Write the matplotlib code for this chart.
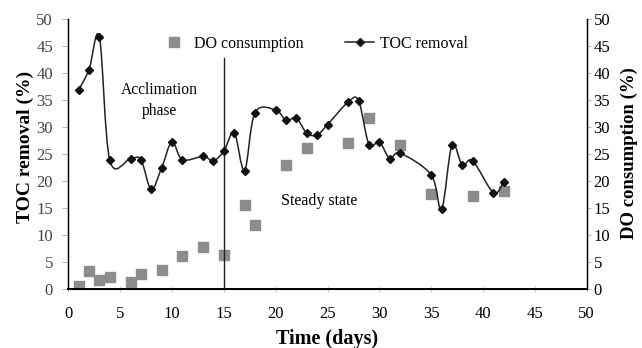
import numpy as np
import matplotlib
matplotlib.use("Agg")
import matplotlib.pyplot as plt
from matplotlib.path import Path
from matplotlib.patches import PathPatch
from matplotlib.lines import Line2D

plt.rcParams['font.family'] = ['Liberation Serif', 'DejaVu Serif']

toc_days = [1, 2, 3, 4, 6, 7, 8, 9, 10, 11, 13, 14, 15, 16, 17, 18, 20, 21, 22, 23, 24, 25,
            27, 28, 29, 30, 31, 32, 35, 36, 37, 38, 39, 41, 42]
toc_removal = [36.9, 40.7, 46.7, 23.9, 24.2, 24.0, 18.5, 22.5, 27.3, 24.0, 24.6, 23.8, 25.6,
               29.0, 22.0, 32.7, 33.2, 31.3, 31.7, 28.9, 28.6, 30.5,
               34.7, 34.9, 26.8, 27.3, 24.2, 25.2, 21.2, 14.8, 26.7, 23.0, 23.8, 17.9, 19.9]

do_days = [1, 2, 3, 4, 6, 7, 9, 11, 13, 15, 17, 18, 21, 23, 27, 29, 32, 35, 39, 42]
do_consumption = [0.7, 3.3, 1.7, 2.3, 1.35, 2.8, 3.5, 6.1, 7.8, 6.3, 15.6, 11.9, 23.1, 26.1,
                  27.1, 31.8, 26.8, 17.7, 17.3, 18.2]

phase_boundary = 15
phase_line_top = 42.9
x_ticks = [0, 5, 10, 15, 20, 25, 30, 35, 40, 45, 50]
y_ticks = [0, 5, 10, 15, 20, 25, 30, 35, 40, 45, 50]


def smooth_path(xs, ys):
    xs = np.asarray(xs, float)
    ys = np.asarray(ys, float)
    n = len(xs)
    verts = [(xs[0], ys[0])]
    codes = [Path.MOVETO]
    for i in range(n - 1):
        i0 = max(i - 1, 0)
        i3 = min(i + 2, n - 1)
        c1 = (xs[i] + (xs[i + 1] - xs[i0]) / 6.0, ys[i] + (ys[i + 1] - ys[i0]) / 6.0)
        c2 = (xs[i + 1] - (xs[i3] - xs[i]) / 6.0, ys[i + 1] - (ys[i3] - ys[i]) / 6.0)
        verts += [c1, c2, (xs[i + 1], ys[i + 1])]
        codes += [Path.CURVE4] * 3
    return Path(verts, codes)


fig = plt.figure(figsize=(6.42, 3.48), dpi=100)
ax = fig.add_axes([0.1064, 0.1687, 0.8075, 0.7758])
ax2 = ax.twinx()

ax.add_patch(PathPatch(smooth_path(toc_days, toc_removal), facecolor='none',
                       edgecolor='#222222', lw=1.1, zorder=3))
ax.plot(toc_days, toc_removal, linestyle='none', marker='D', markersize=4.3,
        color='#111111', zorder=4)
ax.plot(do_days, do_consumption, linestyle='none', marker='s', markersize=6.5,
        color='#8c8c8c', zorder=2)
ax.plot([phase_boundary, phase_boundary], [0, phase_line_top], color='#222222', lw=1.0)

ax.set_xlim(0, 50)
ax.set_ylim(0, 50)
ax2.set_ylim(0, 50)
ax.set_xticks(x_ticks)
ax.set_yticks(y_ticks)
ax2.set_yticks(y_ticks)

for a in (ax, ax2):
    a.spines['top'].set_visible(False)
ax.spines['bottom'].set_linewidth(1.4)
ax.spines['left'].set_linewidth(1.0)
ax2.spines['right'].set_linewidth(1.0)
ax.tick_params(axis='y', length=4, width=0.6, color='#aaaaaa', labelsize=12, pad=7,
               labelcolor='#444444')
ax.tick_params(axis='x', length=4, width=0.6, color='#bbbbbb', labelsize=12, pad=10,
               direction='inout')
ax2.tick_params(axis='y', length=3, width=0.6, color='#aaaaaa', labelsize=12, pad=2)

ax.set_xlabel('Time (days)', fontsize=14.5, fontweight='bold')
ax.set_ylabel('TOC removal (%)', fontsize=14, fontweight='bold')
ax2.set_ylabel('DO consumption (%)', fontsize=13.5, fontweight='bold')
ax.xaxis.set_label_coords(0.5, -0.148)
ax.yaxis.set_label_coords(-0.067, 0.527)
ax2.yaxis.set_label_coords(1.066, 0.505)

ax.text(8.8, 35.0, 'Acclimation\nphase', ha='center', va='center', fontsize=11.2,
        linespacing=1.45)
ax.text(24.2, 16.3, 'Steady state', ha='center', va='center', fontsize=11.5)

handles = [Line2D([], [], linestyle='none', marker='s', markersize=6.5, color='#8c8c8c'),
           Line2D([], [], color='#222222', lw=1.1, marker='D', markersize=4.3,
                  markerfacecolor='#111111')]
ax.legend(handles, ['DO consumption', 'TOC removal'], ncol=2, frameon=False,
          loc='upper left', bbox_to_anchor=(0.149, 0.993), fontsize=11.5,
          columnspacing=2.6, handlelength=1.8, handletextpad=0.35)

fig.savefig('out.png', dpi=100)
